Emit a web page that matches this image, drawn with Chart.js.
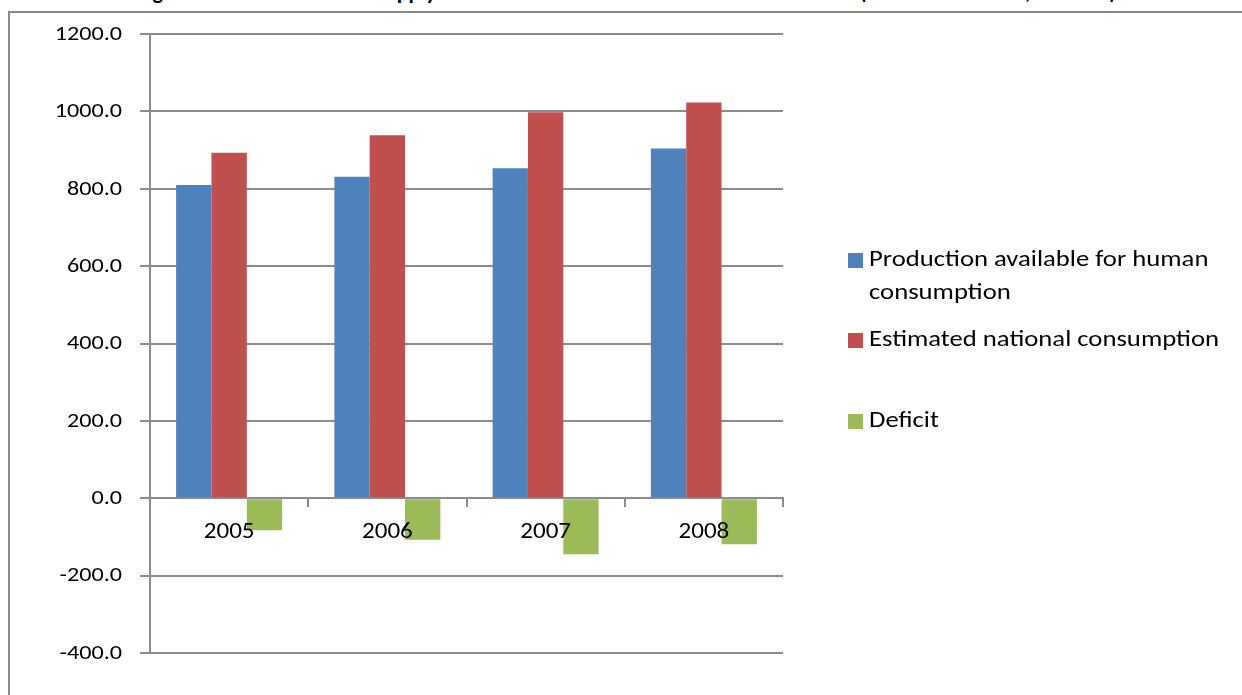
<!DOCTYPE html>
<html><head><meta charset="utf-8">
<script src="https://cdn.jsdelivr.net/npm/chart.js@4.4.1/dist/chart.umd.min.js"></script>
<style>
body{margin:0;background:#fff;overflow:hidden}
#wrap{position:relative;width:1242px;height:695px;overflow:hidden;background:#fff}
#frame{position:absolute;left:8px;top:11px;width:1300px;height:800px;border:2px solid #8a8a8a;box-sizing:border-box}
#title{position:absolute;top:-19px;left:137px;white-space:nowrap;font:bold 22px Carlito,Lato,sans-serif;line-height:22px;color:#000}
canvas{position:absolute;left:0;top:0}
.sw{position:absolute;left:848px;width:15px;height:15px}
.tx{position:absolute;left:869px;white-space:nowrap;font:23px Carlito,Lato,sans-serif;line-height:33px;color:#000;transform:scaleX(1.16);transform-origin:0 0}
</style></head>
<body>
<div id="wrap">
<div id="title">Figure 4.2: Estimated Fish Supply and National Demand for Fish in Lake Malawi (Thousand Tonnes, 2005-08)</div>
<div id="frame"></div>
<canvas id="c" width="1242" height="695"></canvas>
<div id="legend"></div>
</div>
<script>
const categories = ['2005', '2006', '2007', '2008'];
const production = [810, 831, 853, 904];
const consumption = [893, 938, 998, 1023];
const deficit = [-83, -107, -145, -119];
const seriesNames = [['Production available for human', 'consumption'], ['Estimated national consumption'], ['Deficit']];
const seriesColors = ['#4F81BD', '#C0504D', '#9BBB59'];
const yMin = -400, yMax = 1200, yStep = 200;

const fontFam = 'Carlito, Lato, sans-serif';
const gridColor = '#8c8c8c';

// Draws the axis tick labels (taken from the chart's own scales) with a slight horizontal stretch
const stretchLabels = {
  id: 'stretchLabels',
  afterDraw(chart) {
    const ctx = chart.ctx, ys = chart.scales.y, xs = chart.scales.x;
    ctx.save();
    ctx.fillStyle = '#000';
    ctx.textBaseline = 'middle';
    ctx.font = `21px ${fontFam}`;
    ctx.textAlign = 'right';
    const yRight = ys.right - 10 - 18;
    ys.ticks.forEach(t => {
      const py = ys.getPixelForValue(t.value);
      ctx.save();
      ctx.translate(yRight, py + 0.5);
      ctx.scale(1.15, 1);
      ctx.fillText(Number(t.value).toFixed(1), 0, 0);
      ctx.restore();
    });
    ctx.font = `23px ${fontFam}`;
    ctx.textAlign = 'center';
    const y0 = ys.getPixelForValue(0);
    categories.forEach((c, i) => {
      const px = xs.getPixelForTick(i);
      ctx.save();
      ctx.translate(px, y0 + 34);
      ctx.scale(1.09, 1);
      ctx.fillText(c, 0, 0);
      ctx.restore();
    });
    ctx.restore();
  }
};

new Chart(document.getElementById('c'), {
  type: 'bar',
  data: {
    labels: categories,
    datasets: [production, consumption, deficit].map((d, i) => ({
      label: seriesNames[i].join(' '),
      data: d,
      backgroundColor: seriesColors[i],
      borderWidth: 0,
      categoryPercentage: 0.67,
      barPercentage: 1.0
    }))
  },
  plugins: [stretchLabels],
  options: {
    responsive: false,
    animation: false,
    layout: { padding: { left: 0, top: 34, right: 459, bottom: 42 } },
    plugins: { legend: { display: false }, tooltip: { enabled: false } },
    scales: {
      x: {
        position: { y: 0 },
        z: 1,
        grid: { drawOnChartArea: false, drawTicks: true, tickLength: 8, color: gridColor, lineWidth: 2, offset: true },
        border: { display: true, color: gridColor, width: 2 },
        ticks: { display: false }
      },
      y: {
        min: yMin, max: yMax,
        ticks: { stepSize: yStep, display: false },
        grid: { color: gridColor, lineWidth: 2, tickLength: 10 },
        border: { color: gridColor, width: 2 },
        afterFit(s) { s.width = 150; }
      }
    }
  }
});

// legend: square top and text baseline for each line
const lg = document.getElementById('legend');
const swatchTops = [253, 333, 414];
const firstBaselines = [267.7, 347, 428];
const lineGap = 32.3;
seriesNames.forEach((lines, i) => {
  const sw = document.createElement('div');
  sw.className = 'sw';
  sw.style.background = seriesColors[i];
  sw.style.top = swatchTops[i] + 'px';
  lg.appendChild(sw);
  lines.forEach((t, j) => {
    const tx = document.createElement('div');
    tx.className = 'tx';
    tx.style.top = (firstBaselines[i] + j * lineGap - 25.4) + 'px';
    tx.textContent = t;
    lg.appendChild(tx);
  });
});
</script>
</body></html>
